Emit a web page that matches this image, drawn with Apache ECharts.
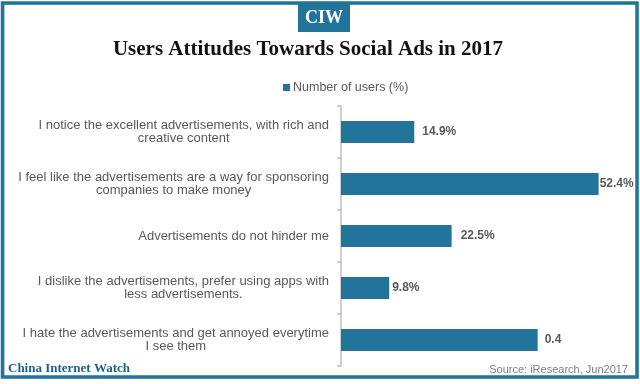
<!DOCTYPE html>
<html><head><meta charset="utf-8">
<script src="https://cdn.jsdelivr.net/npm/echarts@6/dist/echarts.min.js"></script>
<style>html,body{margin:0;padding:0;background:#fff}#c{width:640px;height:384px}</style>
</head><body><div id="c"></div>
<script>
const categories = [
  'I notice the excellent advertisements, with rich and\ncreative content',
  'I feel like the advertisements are a way for sponsoring\ncompanies to make money',
  'Advertisements do not hinder me',
  'I dislike the advertisements, prefer using apps with\nless advertisements.',
  'I hate the advertisements and get annoyed everytime\nI see them'
];
const values = [14.9, 52.4, 22.5, 9.8, 40];
const valueLabels = ['14.9%', '52.4%', '22.5%', '9.8%', '0.4'];
const seriesName = 'Number of users (%)';
const titleText = 'Users Attitudes Towards Social Ads in 2017';
const sourceText = 'Source: iResearch, Jun2017';
const brandText = 'China Internet Watch';
const badgeText = 'CIW';

const labelGap = [8, 1, 9, 3, 7];
const BLUE = '#22749b';
const GRAY = '#595959';

const chart = echarts.init(document.getElementById('c'));
chart.setOption({
  animation: false,
  backgroundColor: '#fff',
  legend: {
    data: [seriesName], left: 283, top: 81, padding: 0, icon: 'rect', itemWidth: 7, itemHeight: 7, itemGap: 4,
    textStyle: {color: GRAY, fontFamily: 'Liberation Sans', fontSize: 12.5, padding: [0, 0, 0, -2]}
  },
  grid: {left: 341, top: 106, width: 295, height: 260, containLabel: false},
  xAxis: {type: 'value', min: 0, max: 60, show: false},
  yAxis: {
    type: 'category', data: categories, inverse: true,
    axisLine: {lineStyle: {color: '#bfbfbf', width: 1.5}},
    axisTick: {show: true, length: 4, lineStyle: {color: '#bfbfbf', width: 1.5}},
    axisLabel: {
      margin: 12, color: GRAY, fontFamily: 'Liberation Sans', fontSize: 13,
      formatter: function (v) {
        return v.split('\n').map(s => '{a|' + s + '}').join('\n');
      },
      rich: {a: {align: 'center', color: GRAY, fontFamily: 'Liberation Sans', fontSize: 13, lineHeight: 13}}
    }
  },
  series: [{
    name: seriesName, type: 'bar', barWidth: 22,
    itemStyle: {color: BLUE},
    data: values.map((v, i) => ({
      value: v,
      label: {show: true, position: 'right', distance: labelGap[i], formatter: valueLabels[i],
        color: GRAY, fontFamily: 'Liberation Sans', fontSize: 12, fontWeight: 'bold'}
    }))
  }],
  graphic: [
    {type: 'rect', shape: {x: 4, y: 4, width: 634, height: 374}, style: {fill: 'none', stroke: '#b7d0dd', lineWidth: 1}, z: 10, silent: true},
    {type: 'rect', shape: {x: 2.5, y: 3, width: 634.5, height: 374}, style: {fill: 'none', stroke: BLUE, lineWidth: 3.5}, z: 11, silent: true},
    {type: 'rect', shape: {x: 298, y: 4, width: 52, height: 28}, style: {fill: BLUE}, z: 12},
    {type: 'text', x: 324, y: 18, style: {text: badgeText, fill: '#fff', font: 'bold 18px "Liberation Serif"', textAlign: 'center', textVerticalAlign: 'middle'}, z: 13},
    {type: 'text', x: 308, y: 50, style: {text: titleText, fill: '#111', font: 'bold 21px "Liberation Serif"', textAlign: 'center', textVerticalAlign: 'middle'}, z: 13},
    {type: 'text', x: 8, y: 369, style: {text: brandText, fill: '#1e5f8c', font: 'bold 13px "Liberation Serif"', textAlign: 'left', textVerticalAlign: 'middle'}, z: 13},
    {type: 'text', x: 628, y: 370, style: {text: sourceText, fill: '#808080', font: '11px "Liberation Sans"', textAlign: 'right', textVerticalAlign: 'middle'}, z: 13}
  ]
});
</script></body></html>
